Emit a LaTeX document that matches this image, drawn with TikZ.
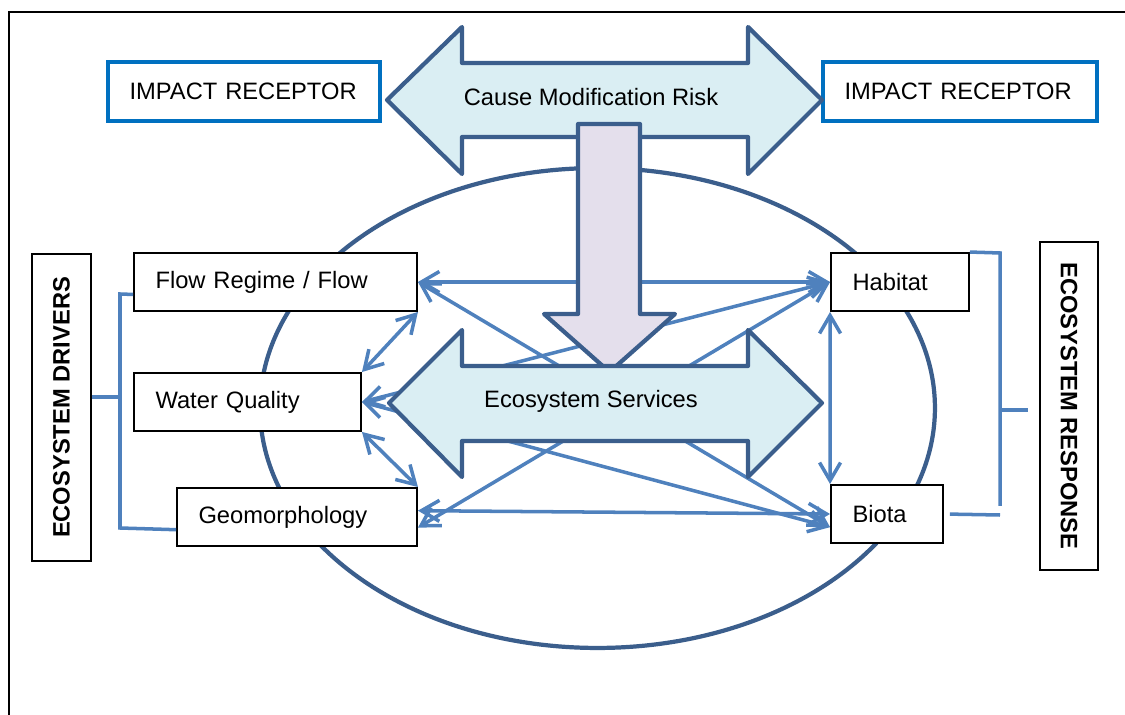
\documentclass[tikz,border=0pt]{standalone}
\usepackage{fontspec}
\setmainfont{Liberation Sans}
\usetikzlibrary{arrows.meta}
\definecolor{linkblue}{RGB}{79,129,189}
\definecolor{edgeblue}{RGB}{59,94,140}
\definecolor{boxblue}{RGB}{0,112,192}
\definecolor{servfill}{RGB}{218,238,243}
\definecolor{downfill}{RGB}{228,223,236}
\tikzset{
every node/.style={font=\fontsize{13.5}{16}\selectfont},
box/.style={rectangle, draw=black, fill=white, line width=1.1pt, minimum height=1.16cm, inner xsep=0.43cm, align=left},
receptor/.style={box, draw=boxblue, line width=1.8pt, minimum height=1.18cm},
sidebox/.style={rectangle, draw=black, fill=white, line width=1.1pt, font=\fontsize{13.5}{16}\selectfont\bfseries},
link/.style={draw=linkblue, line width=2pt, {Straight Barb[length=0.36cm,width=0.42cm]}-{Straight Barb[length=0.36cm,width=0.42cm]}},
bracket/.style={draw=linkblue, line width=2pt},
bigarrow/.style={draw=edgeblue, line width=2.4pt, line join=round}
}

\begin{document}
\begin{tikzpicture}[x=0.02cm, y=-0.02cm]
\useasboundingbox (0,0) rectangle (1125,715);
\draw[line width=1.1pt] (9,715) -- (9,12) -- (1125,12);
\draw[edgeblue, line width=2.4pt] (597.5,408) ellipse [x radius=6.75cm, y radius=4.8cm];

\node[receptor, text width=4.58cm] (recl) at (244,91.5) {IMPACT RECEPTOR};
\node[receptor, text width=4.62cm] (recr) at (960,91.5) {IMPACT RECEPTOR};

\node[box, text width=4.8cm] (flow) at (275.5,282) {Flow Regime / Flow};
\node[box, text width=3.68cm] (wq) at (247.5,402) {Water Quality};
\node[box, text width=3.94cm] (geo) at (297,517) {Geomorphology};
\node[box, text width=1.9cm] (habitat) at (900,282) {Habitat};
\node[box, text width=1.38cm] (biota) at (887,514) {Biota};
\node[sidebox, rotate=90, minimum width=6.14cm, minimum height=1.18cm] (drivers) at (61.5,407.5) {ECOSYSTEM DRIVERS};
\node[sidebox, rotate=-90, minimum width=6.56cm, minimum height=1.16cm] (response) at (1069,406) {ECOSYSTEM RESPONSE};

\draw[link] (flow.east) -- (habitat.west);
\draw[link] (flow.east) -- (biota.193);
\draw[link] (wq.east) -- (habitat.west);
\draw[link] (wq.east) -- (biota.193);
\draw[link] (geo.355) -- (habitat.west);
\draw[link] (geo.3) -- (biota.west);
\draw[link] (flow.south east) -- (wq.north east);
\draw[link] (wq.south east) -- (geo.north east);
\draw[link] (habitat.south west) -- (biota.north west);

\draw[bigarrow, fill=servfill] (387,100) -- (462,27) -- (462,63) -- (748,63) -- (748,27) -- (822,100) -- (748,174) -- (748,137) -- (462,137) -- (462,174) -- cycle;
\node (cause) at (591,97) {Cause Modification Risk};
\draw[bigarrow, fill=downfill] (578,124) -- (640,124) -- (640,314) -- (675,314) -- (609.5,372) -- (544,314) -- (578,314) -- cycle;
\draw[bigarrow, fill=servfill] (389,403) -- (462,330) -- (462,366) -- (748,366) -- (748,330) -- (822,403) -- (748,477) -- (748,441) -- (462,441) -- (462,477) -- cycle;
\node (services) at (591,401) {Ecosystem Services};

\coordinate (lbtop) at (120,294);
\coordinate (lbbot) at (120,528);
\coordinate (lbmid) at (120,397);
\draw[bracket] (flow.185) -- (lbtop) -- (lbbot) -- (geo.186);
\draw[bracket] (lbmid -| drivers.south) -- (lbmid);

\coordinate (rbtop) at (1000,253);
\coordinate (rbbot) at (1000,506);
\coordinate (rbmid) at (1000,410);
\coordinate (rbend) at (1000,515);
\draw[bracket] (habitat.north east) -- (rbtop) -- (rbbot);
\draw[bracket, shorten <=0.12cm] (biota.east) -- (rbend);
\draw[bracket, shorten >=0.22cm] (rbmid) -- (rbmid -| response.south);
\end{tikzpicture}
\end{document}
